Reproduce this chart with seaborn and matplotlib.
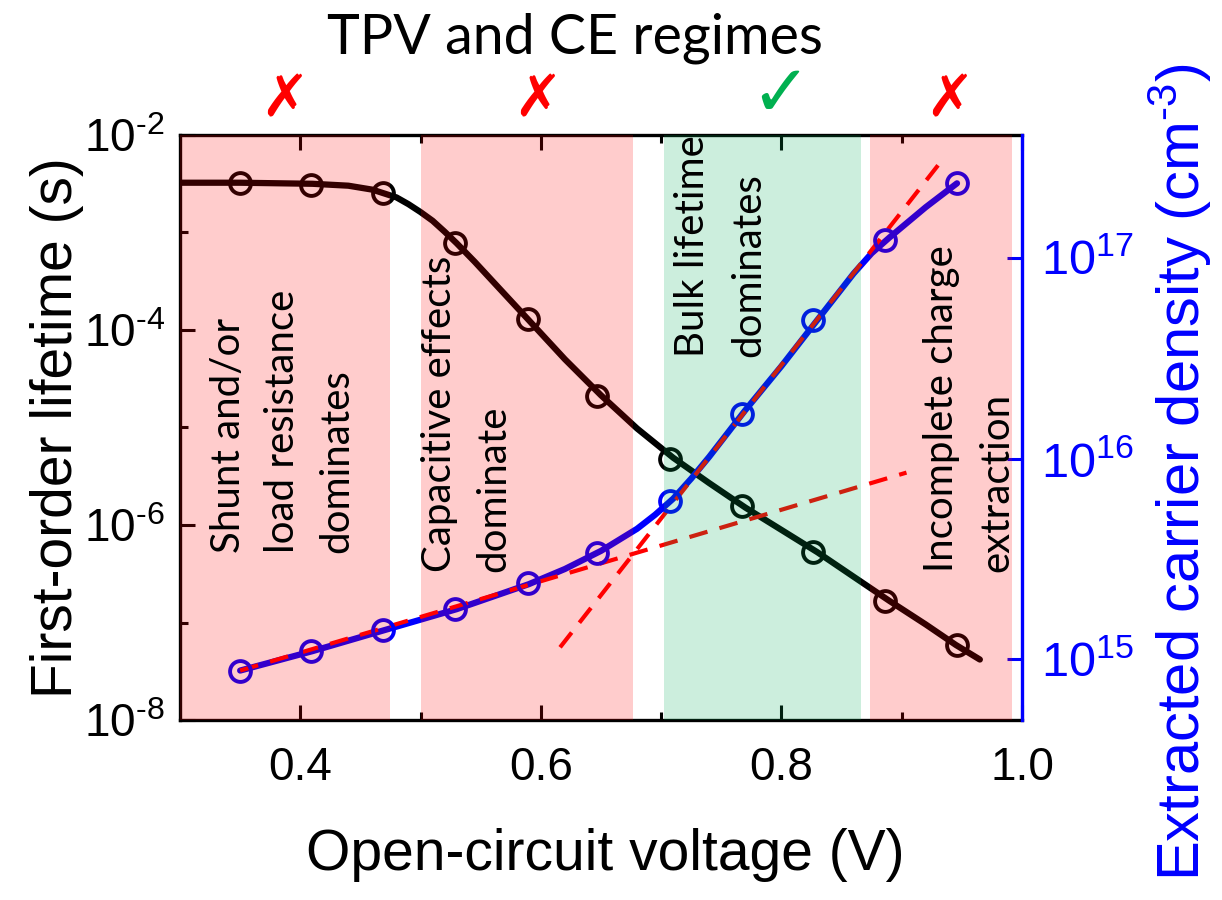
import numpy as np
import pandas as pd
import matplotlib
matplotlib.use('Agg')
import matplotlib.pyplot as plt
import seaborn as sns
from matplotlib.ticker import FixedLocator, FixedFormatter, NullFormatter, NullLocator

sns.set_style('ticks')
plt.rcParams['font.family'] = ['Liberation Sans', 'DejaVu Sans']
plt.rcParams['mathtext.fontset'] = 'custom'
plt.rcParams['mathtext.rm'] = 'Liberation Sans'
plt.rcParams['mathtext.it'] = 'Liberation Sans:italic'
plt.rcParams['mathtext.bf'] = 'Liberation Sans:bold'
plt.rcParams['axes.unicode_minus'] = False
for k in ['text.color', 'axes.labelcolor', 'xtick.color', 'ytick.color', 'axes.edgecolor']:
    plt.rcParams[k] = 'black'

# measured points (open-circuit voltage, V)
voc = [0.350, 0.409, 0.469, 0.529, 0.589, 0.647, 0.707, 0.767, 0.826, 0.886, 0.946]
# first-order lifetime (s)
tau = [3.24e-3, 3.09e-3, 2.57e-3, 7.76e-4, 1.29e-4, 2.09e-5, 4.79e-6, 1.55e-6, 5.25e-7, 1.66e-7, 5.89e-8]
# extracted carrier density (cm^-3)
dens = [8.8e14, 1.10e15, 1.40e15, 1.78e15, 2.40e15, 3.39e15, 6.17e15, 1.66e16, 4.90e16, 1.22e17, 2.34e17]

# fitted curves
fit_v_tau = [0.300, 0.350, 0.410, 0.440, 0.460, 0.480, 0.490, 0.500, 0.510, 0.520, 0.530, 0.545,
             0.560, 0.590, 0.620, 0.650, 0.680, 0.710, 0.740, 0.770, 0.800, 0.830, 0.860, 0.890,
             0.920, 0.945, 0.965]
fit_tau = [3.24e-3, 3.24e-3, 3.16e-3, 3.02e-3, 2.75e-3, 2.29e-3, 1.95e-3, 1.62e-3, 1.32e-3, 1.02e-3,
           7.76e-4, 5.01e-4, 3.16e-4, 1.26e-4, 5.01e-5, 2.14e-5, 9.77e-6, 4.90e-6, 2.69e-6, 1.51e-6,
           8.91e-7, 5.25e-7, 2.95e-7, 1.66e-7, 9.55e-8, 5.89e-8, 4.17e-8]
fit_v_dens = [0.350, 0.410, 0.470, 0.530, 0.590, 0.620, 0.650, 0.680, 0.695, 0.710, 0.725, 0.740,
              0.770, 0.800, 0.830, 0.860, 0.875, 0.890, 0.920, 0.946]
fit_dens = [8.81e14, 1.10e15, 1.40e15, 1.78e15, 2.37e15, 2.82e15, 3.47e15, 4.47e15, 5.25e15, 6.31e15,
            7.94e15, 1.02e16, 1.74e16, 2.88e16, 4.90e16, 8.32e16, 1.05e17, 1.26e17, 1.78e17, 2.34e17]

# guide lines (dashed)
shallow_v = [0.350, 0.904]
shallow_n = [8.81e14, 8.51e15]
steep_v = [0.616, 0.933]
steep_n = [1.15e15, 3.02e17]

# axis ticks
x_ticks = [0.4, 0.6, 0.8, 1.0]
x_labels = ['0.4', '0.6', '0.8', '1.0']
tau_ticks = [1e-8, 1e-6, 1e-4, 1e-2]
tau_labels = ['10$^{\u2010 8}$', '10$^{\u2010 6}$', '10$^{\u2010 4}$', '10$^{\u2010 2}$']
dens_ticks = [1e15, 1e16, 1e17]
dens_labels = ['10$^{15}$', '10$^{16}$', '10$^{17}$']

# regimes
regions = [(0.300, 0.475, 'red'), (0.500, 0.677, 'red'), (0.702, 0.866, '#00AA55'), (0.874, 0.992, 'red')]
region_text = [
    ('Shunt and/or', 0.340, 0.285), ('load resistance', 0.385, 0.285), ('dominates', 0.430, 0.285),
    ('Capacitive effects', 0.516, 0.253), ('dominate', 0.561, 0.253),
    ('Bulk lifetime', 0.726, 0.620), ('dominates', 0.773, 0.620),
    ('Incomplete charge', 0.933, 0.253), ('extraction', 0.979, 0.253),
]
marks = [('✗', 0.387, 'red'), ('✗', 0.597, 'red'), ('✓', 0.799, '#00B050'), ('✗', 0.940, 'red')]

fig = plt.figure(figsize=(12.22, 9), dpi=100)
ax = fig.add_axes([0.1473, 0.2, 0.6890, 0.65])
ax2 = ax.twinx()

# black: lifetime
sns.lineplot(x=fit_v_tau, y=fit_tau, ax=ax, color='black', lw=4.5, sort=False, zorder=2)
sns.lineplot(x=voc, y=tau, ax=ax, color='black', marker='o', linestyle='none', ms=15,
             mfc='none', mec='black', mew=2.8, zorder=3)

# blue: carrier density
sns.lineplot(x=fit_v_dens, y=fit_dens, ax=ax2, color='#0000FF', lw=4.5, sort=False, zorder=2)
sns.lineplot(x=shallow_v, y=shallow_n, ax=ax2, color='#FF0000', lw=3, linestyle=(0, (4.5, 3)), zorder=3)
sns.lineplot(x=steep_v, y=steep_n, ax=ax2, color='#FF0000', lw=3, linestyle=(0, (4.5, 3)), zorder=3)
sns.lineplot(x=voc, y=dens, ax=ax2, color='#0000FF', marker='o', linestyle='none', ms=15,
             mfc='none', mec='#0000FF', mew=2.8, zorder=3)

for x0, x1, c in regions:
    ax2.axvspan(x0, x1, color=c, alpha=0.2, lw=0, zorder=4)

ax.set_yscale('log')
ax2.set_yscale('log')
ax.set_xlim(0.3, 1.0)
ax.set_ylim(1e-8, 1e-2)
ax2.set_ylim(5.0e14, 4.07e17)

ax.xaxis.set_major_locator(FixedLocator(x_ticks))
ax.xaxis.set_major_formatter(FixedFormatter(x_labels))
ax.xaxis.set_minor_locator(FixedLocator([0.5, 0.7, 0.9]))
ax.yaxis.set_major_locator(FixedLocator(tau_ticks))
ax.yaxis.set_major_formatter(FixedFormatter(tau_labels))
ax.yaxis.set_minor_locator(FixedLocator([1e-7, 1e-5, 1e-3]))
ax.yaxis.set_minor_formatter(NullFormatter())
ax2.yaxis.set_major_locator(FixedLocator(dens_ticks))
ax2.yaxis.set_major_formatter(FixedFormatter(dens_labels))
ax2.yaxis.set_minor_locator(NullLocator())

ax.tick_params(axis='both', which='major', direction='in', length=11, width=2.2, labelsize=33, top=True)
ax.tick_params(axis='both', which='minor', direction='in', length=6, width=2.2, top=True)
ax.tick_params(axis='x', which='major', pad=19)
ax.tick_params(axis='y', which='major', pad=11)
ax2.tick_params(axis='y', which='major', direction='in', length=11, width=2.2, labelsize=35,
                colors='#0000FF', pad=14)

for s in ['left', 'bottom', 'top']:
    ax.spines[s].set_linewidth(2.4)
    ax.spines[s].set_color('black')
    ax2.spines[s].set_visible(False)
ax.spines['right'].set_visible(False)
ax2.spines['right'].set_color('#0000FF')
ax2.spines['right'].set_linewidth(2.4)
ax.set_xlabel('')
ax.set_ylabel('')
ax2.set_ylabel('')

for txt, x, y in region_text:
    ax2.text(x, y, txt, transform=ax2.get_xaxis_transform(), rotation=90, ha='center', va='bottom',
             fontsize=29, family=['Lato', 'DejaVu Sans'], color='black', zorder=6)

for m, x, c in marks:
    if m == '✓':
        ax2.text(x, 1.065, m, transform=ax2.get_xaxis_transform(), ha='center', va='center', color=c,
                 fontsize=52, family=['DejaVu Sans'], clip_on=False)
    else:
        ax2.text(x, 1.06, m, transform=ax2.get_xaxis_transform(), ha='center', va='center', color=c,
                 fontsize=42, family=['DejaVu Sans'], fontweight='bold', clip_on=False)

fig.text(0.4705, 0.958, 'TPV and CE regimes', ha='center', va='center', fontsize=40,
         family=['Lato', 'DejaVu Sans'])
fig.text(0.047, 0.5244, 'First-order lifetime (s)', rotation=90, ha='center', va='center', fontsize=41)
fig.text(0.495, 0.05, 'Open-circuit voltage (V)', ha='center', va='center', fontsize=41)
fig.text(0.9656, 0.475, 'Extracted carrier density (cm$^{\u2010 3}$)', rotation=90, ha='center',
         va='center', fontsize=43, color='#0000FF')

fig.savefig('out.png', dpi=100)
